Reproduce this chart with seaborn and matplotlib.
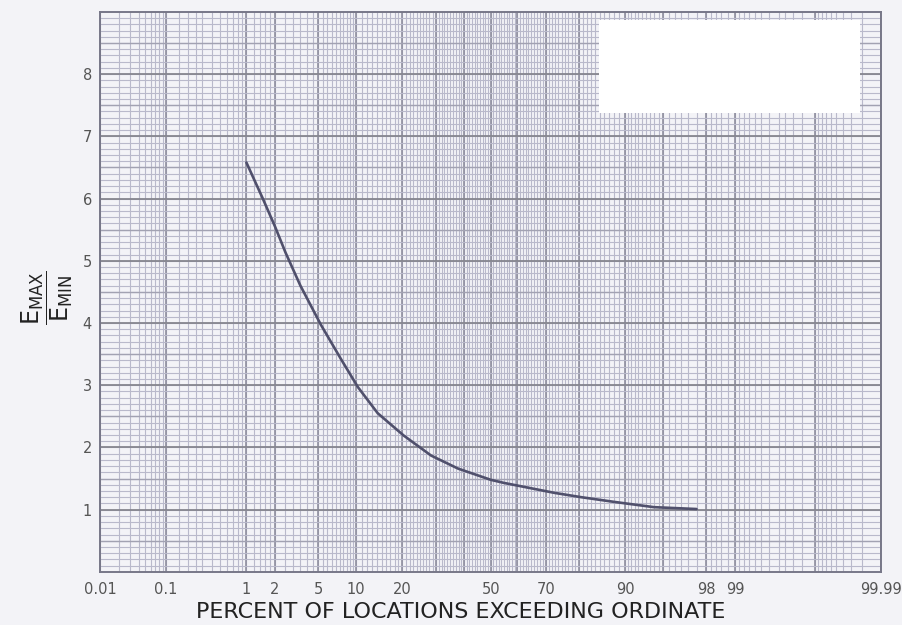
import numpy as np
import matplotlib
matplotlib.use('Agg')
import matplotlib.pyplot as plt
import seaborn as sns
from statistics import NormalDist

# ── Data ─────────────────────────────────────────────────────
pct_exceeding = [1.0, 1.5, 2.0, 2.54, 3.5, 5.3, 7.7, 10.3, 14.1, 20.4,
                 25.3, 28.5, 37.8, 50.0, 55.0, 72.8, 80.6, 88.0, 94.0, 97.5]
emax_emin = [6.58, 6.0, 5.55, 5.13, 4.6, 3.97, 3.42, 2.97, 2.55, 2.19,
             1.99, 1.87, 1.66, 1.48, 1.43, 1.27, 1.2, 1.125, 1.04, 1.01]

x_ticks = [0.01, 0.1, 1, 2, 5, 10, 20, 50, 70, 90, 98, 99, 99.99]
x_tick_labels = ['0.01', '0.1', '1', '2', '5', '10', '20', '50', '70',
                 '90', '98', '99', '99.99']
y_ticks = [1, 2, 3, 4, 5, 6, 7, 8]

# probability-paper rulings (lower half, mirrored for the upper half)
minor_low = ([0.01, 0.02, 0.03, 0.04, 0.05, 0.06, 0.07, 0.08, 0.09,
              0.1, 0.15, 0.2, 0.25, 0.3, 0.4, 0.5, 0.6, 0.7, 0.8, 0.9]
             + list(np.arange(1.0, 2.0, 0.2)) + list(np.arange(2.0, 5.0, 0.5))
             + list(np.arange(5.0, 10.0, 0.5)) + list(np.arange(10.0, 50.0, 1.0)))
major_low = [0.01, 0.1, 1, 2, 5, 10, 20, 30, 40]

# ── Normal probability scale ─────────────────────────────────
_nd = NormalDist()
_ppf = np.vectorize(lambda v: _nd.inv_cdf(min(max(v, 1e-7), 100 - 1e-7) / 100.0),
                    otypes=[float])
_cdf = np.vectorize(lambda z: _nd.cdf(z) * 100.0, otypes=[float])

def fwd(p):
    return _ppf(np.asarray(p, dtype=float))

def inv(z):
    return _cdf(np.asarray(z, dtype=float))

sns.set_style('white')
plt.rcParams['font.family'] = ['DejaVu Sans']
plt.rcParams['mathtext.fontset'] = 'dejavusans'

paper = '#f3f3f7'
fig = plt.figure(figsize=(9.02, 6.25), dpi=100, facecolor=paper)
ax = fig.add_axes([0.111, 0.085, 0.866, 0.896])
ax.set_facecolor(paper)
ax.set_xscale('function', functions=(fwd, inv))
ax.set_xlim(0.01, 99.99)
ax.set_ylim(0, 9)

# ── Grid of the probability paper ────────────────────────────
minor_all = sorted(set([round(v, 3) for v in minor_low] +
                       [round(100 - v, 3) for v in minor_low] + [50.0]))
major_all = sorted(set(major_low + [round(100 - v, 3) for v in major_low] + [50.0]))
for v in minor_all:
    ax.axvline(v, color='#b9b9cb', lw=0.8, zorder=1)
for v in major_all:
    ax.axvline(v, color='#8e8e9e', lw=1.2, zorder=1)
for v in np.arange(0.1, 9.0, 0.1):
    ax.axhline(v, color='#b9b9cb', lw=0.8, zorder=1)
for v in np.arange(0.5, 9.0, 1.0):
    ax.axhline(v, color='#a2a2b2', lw=1.0, zorder=1)
for v in range(1, 9):
    ax.axhline(v, color='#86868f', lw=1.3, zorder=1)

# blank label box in upper right
box_p = [84.8, 99.978]
ax.fill_between(box_p, 7.37, 8.87, color='white', zorder=2, lw=0)

# ── Curve ────────────────────────────────────────────────────
sns.lineplot(x=pct_exceeding, y=emax_emin, sort=False, color='#50506c',
             lw=1.9, ax=ax, zorder=3)

ax.set_xticks(x_ticks)
ax.set_xticklabels(x_tick_labels)
ax.set_yticks(y_ticks)
ax.minorticks_off()
ax.tick_params(axis='both', length=0, colors='#555555', labelsize=10.5)
ax.tick_params(axis='x', pad=7)
ax.tick_params(axis='y', pad=6)

for s in ax.spines.values():
    s.set_color('#777788')
    s.set_linewidth(1.4)
    s.set_zorder(4)

ax.set_xlabel('PERCENT OF LOCATIONS EXCEEDING ORDINATE', fontsize=16,
              color='#222222')
ax.xaxis.set_label_coords(0.461, -0.053)
ax.set_ylabel(r'$\dfrac{\mathsf{E}_{\mathsf{MAX}}}{\mathsf{E}_{\mathsf{MIN}}}$',
              fontsize=17, color='#222222', rotation=90)
ax.yaxis.set_label_coords(-0.032, 0.49)

fig.savefig('out.png', dpi=100, facecolor=paper)
